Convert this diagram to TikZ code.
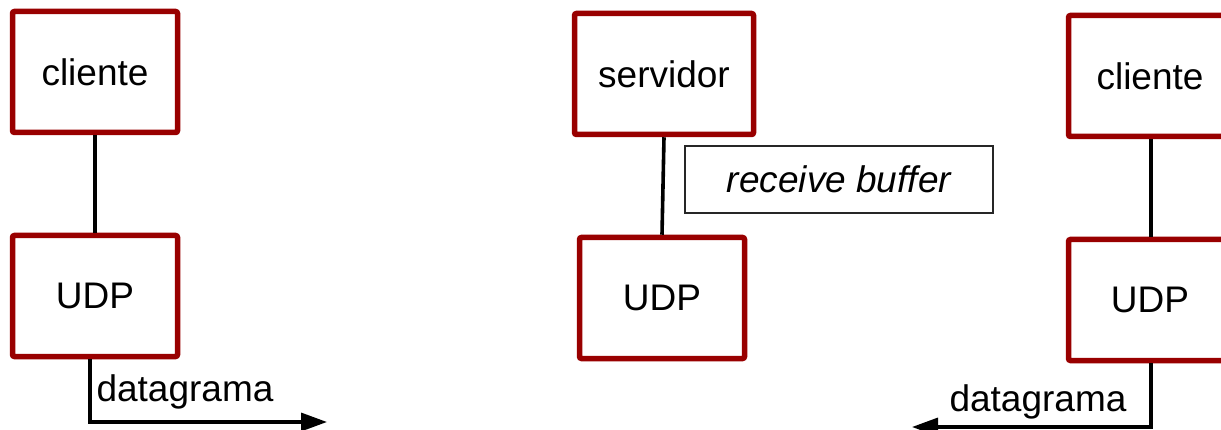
\documentclass[tikz,border=0pt]{standalone}
\usepackage{fontspec}
\setmainfont{Liberation Sans}
\usetikzlibrary{arrows.meta}
\definecolor{boxred}{HTML}{990000}
\begin{document}
\begin{tikzpicture}[x=1pt,y=-1pt,
  every node/.style={font=\fontsize{37}{44}\selectfont},
  layerbox/.style={draw=boxred, line width=5.5pt, rounded corners=2pt,
    minimum width=165pt, minimum height=121pt, inner sep=0pt, fill=white},
  bufbox/.style={draw=black!85, line width=1.2pt, minimum width=308pt,
    minimum height=67pt, inner sep=0pt},
  link/.style={line width=3.6pt, black},
  arr/.style={line width=3.4pt, black, -{Triangle[length=26pt,width=18pt]}}]
  % canvas
  \clip (0,0) rectangle (1221,430);
  \fill[white] (0,0) rectangle (1221,430);

  % sending client
  \node[layerbox] (cliA) at (95,72) {cliente};
  \node[layerbox] (udpA) at (95,296) {UDP};
  \draw[link] (cliA.south) -- (udpA.north);

  % server
  \node[layerbox, minimum width=179pt] (serv) at (664,74) {servidor};
  \node[layerbox] (udpS) at (662,298) {UDP};
  \draw[link] (serv.south) -- (udpS.north);
  \node[bufbox] (buf) at (839,179.5) {\itshape receive buffer};

  % receiving client
  \node[layerbox, minimum width=163pt] (cliB) at (1150,76) {cliente};
  \node[layerbox, minimum width=163pt] (udpB) at (1150,300) {UDP};
  \draw[link] ([xshift=1pt]cliB.south) -- ([xshift=1pt]udpB.north);

  % datagrams
  \coordinate (outA) at (327,422);
  \draw[arr] ([xshift=-5pt]udpA.south) |- (outA);
  \node (dgA) at (185,392) {datagrama};

  \coordinate (outB) at (912,427);
  \draw[arr] ([xshift=1pt]udpB.south) |- (outB);
  \node (dgB) at (1038,402) {datagrama};
\end{tikzpicture}
\end{document}
